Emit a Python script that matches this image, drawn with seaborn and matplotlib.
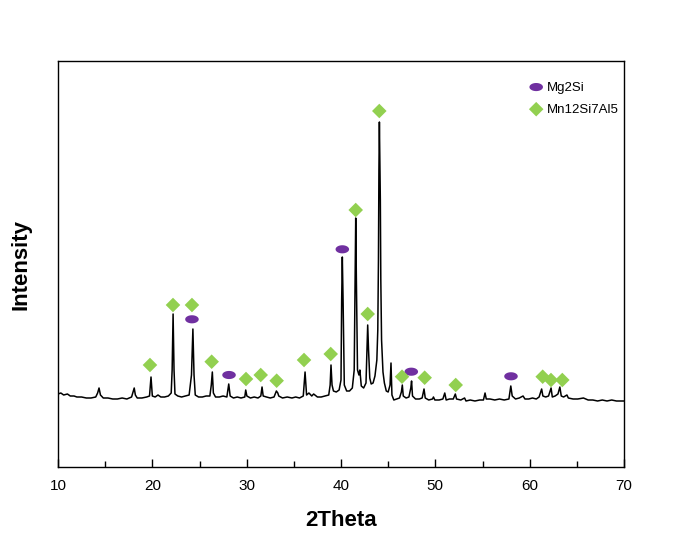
import numpy as np
import pandas as pd
import matplotlib
matplotlib.use("Agg")
import matplotlib.pyplot as plt
from matplotlib.path import Path
from matplotlib.ticker import MultipleLocator
import seaborn as sns

# ---- XRD trace vertices (2theta, relative intensity) ----
two_theta = [
    10.0, 10.3, 10.6, 11.0, 11.3, 11.7, 12.0, 12.5, 13.0, 13.5, 14.0, 14.2, 14.35, 14.5, 14.8,
    15.3, 15.8, 16.3, 16.8, 17.3, 17.8, 17.95, 18.08, 18.2, 18.4, 18.9, 19.4, 19.7, 19.86, 20.0,
    20.3, 20.6, 20.9, 21.3, 21.7, 22.0, 22.1, 22.2, 22.3, 22.4, 22.7, 23.1, 23.5, 23.9, 24.15,
    24.3, 24.42, 24.55, 24.9, 25.3, 25.7, 26.1, 26.25, 26.36, 26.47, 26.7, 27.1, 27.5, 27.9, 28.1,
    28.25, 28.6, 29.0, 29.4, 29.8, 29.9, 30.02, 30.4, 30.8, 31.2, 31.5, 31.63, 31.75, 32.1, 32.5,
    32.9, 33.15, 33.3, 33.4, 33.8, 34.3, 34.8, 35.2, 35.6, 36.0, 36.19, 36.35, 36.6, 36.9, 37.1,
    37.5, 37.9, 38.3, 38.7, 38.85, 38.94, 39.05, 39.2, 39.5, 39.8, 40.0, 40.07, 40.14, 40.22, 40.35,
    40.6, 40.9, 41.2, 41.4, 41.5, 41.56, 41.63, 41.75, 41.9, 42.0, 42.15, 42.4, 42.65, 42.75, 42.83,
    42.92, 43.05, 43.2, 43.4, 43.6, 43.8, 43.9, 43.97, 44.02, 44.07, 44.12, 44.17, 44.22, 44.3, 44.45,
    44.6, 44.8, 45.0, 45.2, 45.3, 45.4, 45.6, 45.9, 46.2, 46.4, 46.5, 46.6, 46.9, 47.2, 47.4,
    47.48, 47.58, 47.9, 48.3, 48.6, 48.8, 48.93, 49.3, 49.7, 49.8, 49.95, 50.4, 50.8, 51.0, 51.15,
    51.5, 51.9, 52.12, 52.25, 52.7, 53.1, 53.25, 53.7, 54.2, 54.7, 55.1, 55.27, 55.4, 55.8, 56.3,
    56.8, 57.3, 57.8, 58.0, 58.15, 58.5, 58.9, 59.3, 59.5, 59.9, 60.3, 60.7, 61.0, 61.27, 61.4,
    61.7, 62.0, 62.27, 62.4, 62.7, 63.0, 63.2, 63.35, 63.6, 63.95, 64.1, 64.6, 65.1, 65.7, 66.2,
    66.7, 67.2, 67.7, 68.2, 68.7, 69.2, 70.0,
]
intensity = [
    730, 740, 720, 730, 710, 710, 700, 700, 690, 690, 700, 740, 790, 720, 690,
    690, 680, 680, 690, 680, 700, 750, 790, 720, 690, 690, 700, 710, 900, 710,
    700, 720, 700, 700, 710, 740, 970, 1530, 970, 730, 710, 700, 710, 720, 920,
    1380, 920, 720, 700, 700, 710, 710, 820, 950, 740, 700, 700, 710, 700, 830,
    710, 690, 700, 690, 700, 770, 710, 690, 700, 690, 710, 800, 710, 700, 690,
    700, 760, 740, 710, 690, 700, 690, 700, 690, 710, 950, 720, 740, 710, 730,
    700, 700, 710, 720, 820, 1020, 820, 760, 750, 770, 870, 1670, 2100, 1670, 820,
    760, 760, 790, 970, 1870, 2490, 1870, 970, 920, 970, 810, 790, 840, 1170, 1420,
    1170, 890, 830, 840, 910, 1070, 1370, 2070, 2970, 3450, 3070, 2670, 1870, 1270, 950,
    840, 760, 750, 820, 1040, 720, 670, 680, 690, 750, 820, 710, 690, 700, 790,
    860, 710, 680, 680, 690, 780, 690, 670, 680, 700, 670, 670, 680, 740, 670,
    680, 680, 730, 680, 670, 690, 660, 670, 660, 670, 670, 740, 680, 680, 670,
    680, 670, 680, 810, 710, 680, 690, 710, 680, 680, 690, 680, 700, 780, 710,
    700, 710, 790, 700, 710, 730, 800, 710, 700, 720, 690, 680, 680, 690, 670,
    670, 660, 670, 660, 670, 660, 660,
]

# ---- phase markers (2theta, height) ----
mg2si_x = [24.2, 28.13, 40.14, 47.45, 58.02]
mg2si_y = [1477, 920, 2177, 953, 907]
mn_x = [19.75, 22.19, 24.2, 26.29, 29.93, 31.49, 33.18, 36.08, 38.91, 41.56, 42.83, 44.06,
        46.47, 48.87, 52.16, 61.38, 62.26, 63.46]
mn_y = [1020, 1620, 1620, 1053, 880, 920, 863, 1070, 1130, 2570, 1530, 3560,
        903, 893, 820, 903, 870, 870]

x_ticks = [10, 20, 30, 40, 50, 60, 70]

sns.set_style("ticks")
plt.rcParams['font.family'] = ['Liberation Sans', 'DejaVu Sans']
plt.rcParams['text.color'] = 'black'
plt.rcParams['axes.labelcolor'] = 'black'
plt.rcParams['xtick.color'] = 'black'
plt.rcParams['ytick.color'] = 'black'

fig = plt.figure(figsize=(6.78, 5.38), dpi=100)
ax = fig.add_axes([58 / 678, 1 - 467 / 538, (624 - 58) / 678, (467 - 61) / 538])

trace = pd.DataFrame({"two_theta": two_theta, "intensity": intensity})
sns.lineplot(data=trace, x="two_theta", y="intensity", ax=ax, color="black",
             lw=1.1, sort=False, estimator=None)

t = np.linspace(0, 2 * np.pi, 60)
ellipse = Path(np.column_stack([np.cos(t), 0.6 * np.sin(t)]), closed=True)

sns.scatterplot(x=mg2si_x, y=mg2si_y, ax=ax, marker=ellipse, s=95, color="#7030A0",
                edgecolor="none", label="Mg2Si", zorder=3)
sns.scatterplot(x=mn_x, y=mn_y, ax=ax, marker="D", s=55, color="#92D050",
                edgecolor="none", label="Mn12Si7Al5", zorder=3)

ax.set_xlim(10, 70)
ax.set_ylim(0, 4060)
ax.set_xticks(x_ticks)
ax.xaxis.set_minor_locator(MultipleLocator(5))
ax.set_yticks([])
ax.tick_params(axis="x", which="major", direction="in", length=6, width=1,
               labelsize=11, pad=9, top=False, colors="black")
ax.tick_params(axis="x", which="minor", direction="in", length=4, width=1, top=False,
               colors="black")
for sp in ax.spines.values():
    sp.set_visible(True)
    sp.set_color("black")
    sp.set_linewidth(1.0)

ax.set_xlabel("2Theta", fontsize=16, fontweight="bold", labelpad=12, color="black")
ax.set_ylabel("Intensity", fontsize=16, fontweight="bold", labelpad=19, color="black")

leg = ax.legend(loc="upper left", bbox_to_anchor=((523 - 58) / 566, 1 - (76 - 61) / 406),
                frameon=False, fontsize=9.5, handletextpad=0.2, labelspacing=0.75,
                borderaxespad=0, handlelength=1.2)
for txt in leg.get_texts():
    txt.set_color("black")

fig.savefig("out.png", dpi=100)
